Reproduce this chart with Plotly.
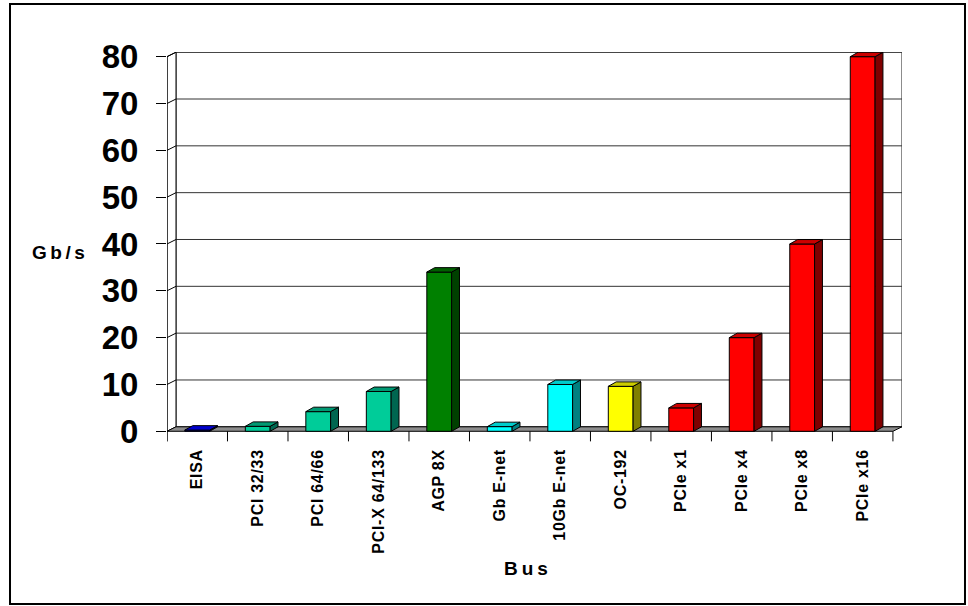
import plotly.graph_objects as go

# ---------------- data ----------------
categories = ["EISA", "PCI 32/33", "PCI 64/66", "PCI-X 64/133", "AGP 8X", "Gb E-net",
              "10Gb E-net", "OC-192", "PCIe x1", "PCIe x4", "PCIe x8", "PCIe x16"]
values = [0.26, 1.06, 4.2, 8.5, 34, 1, 10, 9.6, 5, 20, 40, 80]
front_colors = ["#0000FF", "#00CC99", "#00CC99", "#00CC99", "#008000", "#00FFFF",
                "#00FFFF", "#FFFF00", "#FF0000", "#FF0000", "#FF0000", "#FF0000"]
top_colors = ["#0000CC", "#009973", "#009973", "#009973", "#006000", "#00CCCC",
              "#00CCCC", "#CCCC00", "#CC0000", "#CC0000", "#CC0000", "#CC0000"]
side_colors = ["#000080", "#006650", "#006650", "#006650", "#004000", "#008080",
               "#008080", "#808000", "#800000", "#800000", "#800000", "#800000"]
y_ticks = [0, 10, 20, 30, 40, 50, 60, 70, 80]
y_title = "Gb/s"
x_title = "Bus"

# ---------------- 3-D geometry (style) ----------------
FONT = "Arial, Liberation Sans, sans-serif"
WALL_DX, WALL_DY = 0.149, 0.96     # depth of walls/floor in axis units
BAR_DX, BAR_DY = 0.13, 0.95        # depth of bars
BAR_W = 0.41
TICK_DOWN = 2.15
n = len(categories)
x0, x1 = -0.5, n - 0.5
ymax = y_ticks[-1]

fig = go.Figure()


def poly(xs, ys, fill, lw=1, lc="black"):
    fig.add_trace(go.Scatter(x=xs + [xs[0]], y=ys + [ys[0]], mode="lines",
                             fill="toself" if fill else None, fillcolor=fill,
                             line=dict(color=lc, width=lw), hoverinfo="skip",
                             showlegend=False))


def line(xs, ys, color="black", w=1):
    fig.add_trace(go.Scatter(x=xs, y=ys, mode="lines", line=dict(color=color, width=w),
                             hoverinfo="skip", showlegend=False))


# back wall
poly([x0 + WALL_DX, x1 + WALL_DX, x1 + WALL_DX, x0 + WALL_DX],
     [WALL_DY, WALL_DY, ymax + WALL_DY, ymax + WALL_DY], "white", lw=1, lc="#333")
for v in y_ticks[1:]:
    line([x0 + WALL_DX, x1 + WALL_DX], [v + WALL_DY, v + WALL_DY], color="#333")
# left wall
poly([x0, x0, x0 + WALL_DX, x0 + WALL_DX], [0, ymax, ymax + WALL_DY, WALL_DY], "white")
for v in y_ticks[1:]:
    line([x0, x0 + WALL_DX], [v, v + WALL_DY])
# floor
poly([x0, x1, x1 + WALL_DX, x0 + WALL_DX], [0, 0, WALL_DY, WALL_DY], "#8C8C8C")
# front value axis line
line([x0, x0], [-TICK_DOWN, ymax])
# category ticks
for k in range(n + 1):
    line([x0 + k, x0 + k], [0, -TICK_DOWN])

# bars
for i, (v, fc, tc, sc) in enumerate(zip(values, front_colors, top_colors, side_colors)):
    l, r = i - BAR_W / 2, i + BAR_W / 2
    poly([l, r, r, l], [0, 0, v, v], fc)
    poly([r, r + BAR_DX, r + BAR_DX, r], [0, BAR_DY, v + BAR_DY, v], sc)
    poly([l, r, r + BAR_DX, l + BAR_DX], [v, v, v + BAR_DY, v + BAR_DY], tc)

fig.update_layout(
    width=968, height=606, autosize=False,
    margin=dict(l=167, r=66, t=52, b=163),
    paper_bgcolor="white", plot_bgcolor="white",
    showlegend=False,
    xaxis=dict(range=[x0, x1 + 0.15], showgrid=False, zeroline=False, showline=False,
               tickmode="array", tickvals=list(range(n)),
               ticktext=['<span style="letter-spacing:0.7px">%s</span>' % c for c in categories],
               tickangle=-90, ticks="", ticklabelstandoff=2,
               tickfont=dict(family=FONT, size=16, color="black", weight="bold"),
               fixedrange=True),
    yaxis=dict(range=[-2.5, 81], showgrid=False, zeroline=False, showline=False,
               tickmode="array", tickvals=y_ticks, ticks="outside", ticklen=10,
               tickwidth=1, tickcolor="black", ticklabelstandoff=11,
               tickfont=dict(family=FONT, size=33, color="black", weight="bold"),
               fixedrange=True),
    annotations=[
        dict(text='<span style="letter-spacing:3.5px">%s</span>' % y_title, xref="paper", yref="paper",
             x=-0.1456, y=0.487, xanchor="center", yanchor="middle", showarrow=False,
             font=dict(family=FONT, size=19, color="black", weight="bold")),
        dict(text='<span style="letter-spacing:4px">%s</span>' % x_title, xref="paper", yref="paper",
             x=0.4905, y=-0.322, xanchor="center", yanchor="middle", showarrow=False,
             font=dict(family=FONT, size=19, color="black", weight="bold")),
    ],
    shapes=[dict(type="rect", xref="paper", yref="paper", x0=-0.2136, x1=1.0857,
                 y0=-0.4118, y1=1.1228, line=dict(color="black", width=2),
                 fillcolor="rgba(0,0,0,0)", layer="above")],
)

fig.write_html("out.html")
